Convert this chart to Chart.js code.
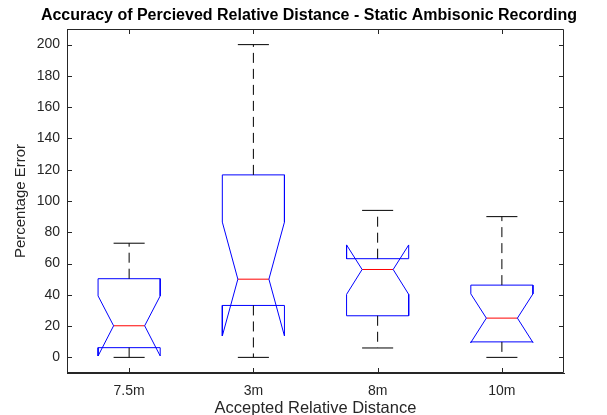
<!DOCTYPE html>
<html>
<head>
<meta charset="utf-8">
<script src="https://cdn.jsdelivr.net/npm/chart.js@4.4.1/dist/chart.umd.min.js"></script>
<style>
  html, body { margin: 0; padding: 0; background: #fff; }
  #wrap { width: 607px; height: 415px; position: relative; }
</style>
</head>
<body>
<div id="wrap"><canvas id="c" width="607" height="415"></canvas></div>
<script>
// ---- data ----
const chartTitle = 'Accuracy of Percieved Relative Distance - Static Ambisonic Recording';
const categories = ['7.5m', '3m', '8m', '10m'];
const q1 = [6.2, 33.2, 26.6, 9.9];
const q3 = [50.3, 116.7, 63.1, 46.2];
const medians = [20.2, 50, 56.2, 25.1];
const notchLow = [0.9, 13.7, 40.3, 9.5];
const notchHigh = [39.3, 86.5, 71.9, 40.6];
const whiskerLow = [0, 0, 6, 0];
const whiskerHigh = [73, 200, 94, 90];
const yTicks = [0, 20, 40, 60, 80, 100, 120, 140, 160, 180, 200];

// ---- geometry in data units (box half width etc.) ----
const boxHalf = 0.25, notchHalf = 0.125, capHalf = 0.125;

const boxPts = [], medPts = [], whiskPts = [], capPts = [];
categories.forEach((c, i) => {
  const x = i + 1;
  boxPts.push(
    {x: x - boxHalf, y: q1[i]}, {x: x - boxHalf, y: notchLow[i]}, {x: x - notchHalf, y: medians[i]},
    {x: x - boxHalf, y: notchHigh[i]}, {x: x - boxHalf, y: q3[i]}, {x: x + boxHalf, y: q3[i]},
    {x: x + boxHalf, y: notchHigh[i]}, {x: x + notchHalf, y: medians[i]}, {x: x + boxHalf, y: notchLow[i]},
    {x: x + boxHalf, y: q1[i]}, {x: x - boxHalf, y: q1[i]}, {x: x, y: null});
  medPts.push({x: x - notchHalf, y: medians[i]}, {x: x + notchHalf, y: medians[i]}, {x: x, y: null});
  whiskPts.push({x: x, y: q3[i]}, {x: x, y: whiskerHigh[i]}, {x: x, y: null},
                {x: x, y: q1[i]}, {x: x, y: whiskerLow[i]}, {x: x, y: null});
  capPts.push({x: x - capHalf, y: whiskerHigh[i]}, {x: x + capHalf, y: whiskerHigh[i]}, {x: x, y: null},
              {x: x - capHalf, y: whiskerLow[i]}, {x: x + capHalf, y: whiskerLow[i]}, {x: x, y: null});
});

const axisColor = '#262626';
const FONT = "'Liberation Sans', Arial, sans-serif";

const lineDs = (data, color, dash) => ({
  data, borderColor: color, borderWidth: 1, borderDash: dash || [],
  showLine: true, pointRadius: 0, pointHoverRadius: 0, spanGaps: false, tension: 0, fill: false
});

const frame = {
  id: 'frame',
  afterDatasetsDraw(chart) {
    const {ctx, chartArea: a, scales: {x, y}} = chart;
    ctx.save();
    ctx.strokeStyle = axisColor;
    ctx.lineWidth = 1;
    ctx.beginPath();
    ctx.rect(a.left + 0.5, a.top + 0.5, a.right - a.left - 1, a.bottom - a.top - 1);
    const tl = 5;
    x.ticks.forEach(t => {
      const px = Math.round(x.getPixelForValue(t.value)) + 0.5;
      ctx.moveTo(px, a.bottom); ctx.lineTo(px, a.bottom - tl);
      ctx.moveTo(px, a.top); ctx.lineTo(px, a.top + tl);
    });
    y.ticks.forEach(t => {
      const py = Math.round(y.getPixelForValue(t.value)) + 0.5;
      ctx.moveTo(a.left, py); ctx.lineTo(a.left + tl, py);
      ctx.moveTo(a.right, py); ctx.lineTo(a.right - tl, py);
    });
    ctx.stroke();
    ctx.fillStyle = '#000';
    ctx.font = "bold 16px " + FONT;
    ctx.textAlign = 'center';
    ctx.textBaseline = 'middle';
    ctx.fillText(chartTitle, 309, 16);
    ctx.restore();
  }
};

new Chart(document.getElementById('c'), {
  type: 'scatter',
  data: {
    datasets: [
      lineDs(whiskPts, '#000000', [10, 6]),
      lineDs(capPts, '#000000'),
      lineDs(boxPts, '#0000ff'),
      lineDs(medPts, '#ff0000')
    ]
  },
  options: {
    responsive: false,
    animation: false,
    events: [],
    layout: { padding: { top: 29, right: 43, left: 0, bottom: 0 } },
    plugins: { legend: { display: false }, tooltip: { enabled: false }, title: { display: false } },
    scales: {
      x: {
        type: 'linear', min: 0.5, max: 4.5,
        afterBuildTicks: s => { s.ticks = categories.map((c, i) => ({value: i + 1})); },
        afterFit: s => { s.height = 42; },
        grid: { display: true, drawOnChartArea: false, drawTicks: false },
        border: { display: true, color: axisColor },
        ticks: { color: axisColor, font: { family: FONT, size: 14 }, padding: 10,
                 maxRotation: 0, autoSkip: false,
                 callback: v => categories[Math.round(v) - 1] },
        title: { display: true, text: 'Accepted Relative Distance', color: axisColor,
                 font: { family: FONT, size: 16.5 }, padding: { top: 0, bottom: -3 } }
      },
      y: {
        type: 'linear', min: -10, max: 210,
        afterBuildTicks: s => { s.ticks = yTicks.map(v => ({value: v})); },
        afterFit: s => { s.width = 67; },
        grid: { display: true, drawOnChartArea: false, drawTicks: false },
        border: { display: true, color: axisColor },
        ticks: { color: axisColor, font: { family: FONT, size: 14 }, padding: 7, autoSkip: false },
        title: { display: true, text: 'Percentage Error', color: axisColor,
                 font: { family: FONT, size: 15 }, padding: { top: 12, bottom: 0 } }
      }
    }
  },
  plugins: [frame]
});
</script>
</body>
</html>
